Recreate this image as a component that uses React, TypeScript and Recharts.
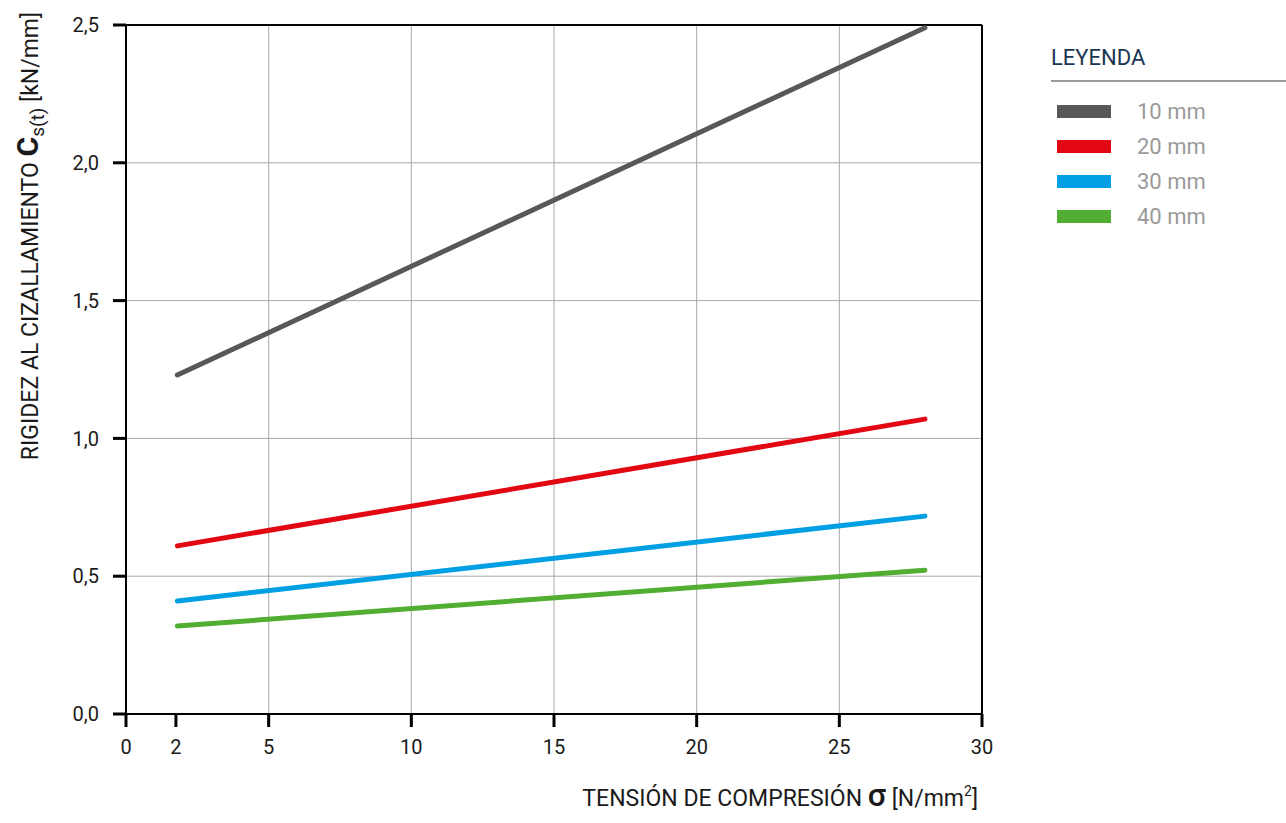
import { LineChart, Line, XAxis, YAxis, CartesianGrid, ReferenceLine } from 'recharts';

// x positions of the measured curve ends (first point sits on the "2" tick)
const sigma = [1.8, 28];
const series10 = [1.23, 2.49];
const series20 = [0.61, 1.07];
const series30 = [0.41, 0.718];
const series40 = [0.319, 0.522];

const xTicks = [0, 1.75, 5, 10, 15, 20, 25, 30];
const xTickLabels = ['0', '2', '5', '10', '15', '20', '25', '30'];
const yTicks = [0, 0.5, 1, 1.5, 2, 2.5];

const seriesInfo = [
  { key: 'mm10', name: '10 mm', color: '#58585a', values: series10 },
  { key: 'mm20', name: '20 mm', color: '#e30613', values: series20 },
  { key: 'mm30', name: '30 mm', color: '#009fe3', values: series30 },
  { key: 'mm40', name: '40 mm', color: '#52ae32', values: series40 },
];

const data = sigma.map((s, i) => {
  const row: any = { s };
  seriesInfo.forEach((si) => (row[si.key] = si.values[i]));
  return row;
});

const FONT = 'Roboto, "Noto Sans", sans-serif';

function LegendBox() {
  return (
    <div style={{ position: 'absolute', left: 1051, top: 0, width: 235, fontFamily: FONT }}>
      <div style={{ position: 'absolute', top: 44, left: 0, color: '#1b3652', fontSize: 22, lineHeight: '28px' }}>
        LEYENDA
      </div>
      <div style={{ position: 'absolute', top: 80, left: 0, width: 235, borderTop: '2px solid #9a9a9a' }} />
      {seriesInfo.map((si, i) => (
        <div
          key={si.key}
          style={{ position: 'absolute', top: 97 + i * 35, left: 0, display: 'flex', alignItems: 'center', height: 28 }}
        >
          <div style={{ width: 54, height: 13, background: si.color, marginLeft: 6 }} />
          <span style={{ marginLeft: 26, color: '#9a9a9a', fontSize: 22 }}>{si.name}</span>
        </div>
      ))}
    </div>
  );
}

export default function App() {
  return (
    <div style={{ position: 'absolute', left: 0, top: 0, width: 1286, height: 823, background: '#fff' }}>
      <LineChart
        width={1286}
        height={823}
        data={data}
        margin={{ top: 25, right: 304, left: 66, bottom: 69 }}
      >
        <CartesianGrid
          stroke="#a8a8a8"
          strokeWidth={1}
          verticalValues={[5, 10, 15, 20, 25]}
          horizontalValues={[0.5, 1, 1.5, 2]}
        />
        <XAxis
          type="number"
          dataKey="s"
          domain={[0, 30]}
          ticks={xTicks}
          tickFormatter={(v: number) => xTickLabels[xTicks.indexOf(v)]}
          interval={0}
          height={40}
          stroke="#000"
          strokeWidth={2}
          tickLine={{ stroke: '#000', strokeWidth: 3 }}
          tickSize={13}
          tick={{ fill: '#1a1a1a', fontSize: 20, fontFamily: FONT }}
          tickMargin={13}
        />
        <YAxis
          type="number"
          domain={[0, 2.5]}
          ticks={yTicks}
          width={60}
          stroke="#000"
          strokeWidth={2}
          tickLine={{ stroke: '#000', strokeWidth: 3 }}
          tickSize={13}
          tickMargin={14}
          tickFormatter={(v: number) => v.toFixed(1).replace('.', ',')}
          tick={{ fill: '#1a1a1a', fontSize: 20, fontFamily: FONT }}
        />
        <ReferenceLine y={2.5} stroke="#000" strokeWidth={2} />
        <ReferenceLine x={30} stroke="#000" strokeWidth={2} />
        {seriesInfo.map((si) => (
          <Line
            key={si.key}
            type="linear"
            dataKey={si.key}
            name={si.name}
            stroke={si.color}
            strokeWidth={5}
            strokeLinecap="round"
            dot={false}
            activeDot={false}
            isAnimationActive={false}
          />
        ))}
        <text
          transform="translate(38, 236) rotate(-90)"
          textAnchor="middle"
          fontFamily={FONT}
          fontSize={23}
          fill="#1a1a1a"
        >
          <tspan>RIGIDEZ AL CIZALLAMIENTO </tspan>
          <tspan fontSize={30} fontWeight="bold">C</tspan>
          <tspan fontSize={19} dy={6}>s(t)</tspan>
          <tspan dy={-6}> [kN/mm]</tspan>
        </text>
        <text x={978} y={806} textAnchor="end" fontFamily={FONT} fontSize={23} fill="#1a1a1a">
          <tspan>TENSIÓN DE COMPRESIÓN </tspan>
          <tspan fontSize={32} fontWeight={500}>σ</tspan>
          <tspan> [N/mm</tspan>
          <tspan fontSize={14} dy={-10}>2</tspan>
          <tspan dy={10}>]</tspan>
        </text>
      </LineChart>
      <LegendBox />
    </div>
  );
}
